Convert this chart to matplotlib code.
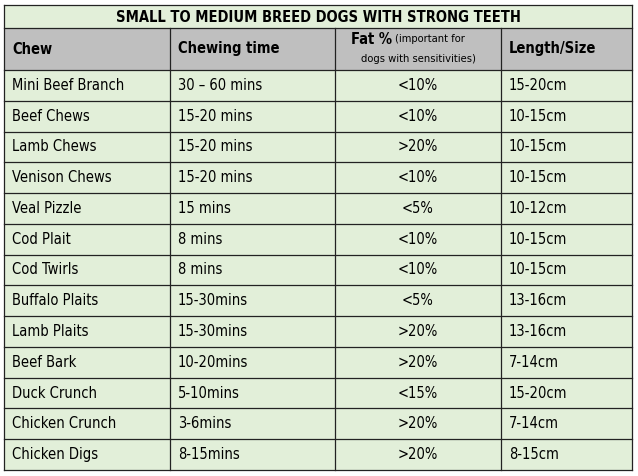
import matplotlib.pyplot as plt
from matplotlib.patches import Rectangle

title = 'SMALL TO MEDIUM BREED DOGS WITH STRONG TEETH'
chews = ['Mini Beef Branch', 'Beef Chews', 'Lamb Chews', 'Venison Chews', 'Veal Pizzle',
         'Cod Plait', 'Cod Twirls', 'Buffalo Plaits', 'Lamb Plaits', 'Beef Bark',
         'Duck Crunch', 'Chicken Crunch', 'Chicken Digs']
times = ['30 – 60 mins', '15-20 mins', '15-20 mins', '15-20 mins', '15 mins', '8 mins', '8 mins',
         '15-30mins', '15-30mins', '10-20mins', '5-10mins', '3-6mins', '8-15mins']
fats = ['<10%', '<10%', '>20%', '<10%', '<5%', '<10%', '<10%', '<5%', '>20%', '>20%',
        '<15%', '>20%', '>20%']
sizes = ['15-20cm', '10-15cm', '10-15cm', '10-15cm', '10-12cm', '10-15cm', '10-15cm',
         '13-16cm', '13-16cm', '7-14cm', '15-20cm', '7-14cm', '8-15cm']

col_x = [4, 170, 335, 501, 632]
top, title_bot, head_bot, bottom = 5, 28, 70, 470
row_h = (bottom - head_bot) / len(chews)

fig = plt.figure(figsize=(6.38, 4.76), dpi=100)
ax = fig.add_axes([0, 0, 1, 1])
ax.set_xlim(0, 638)
ax.set_ylim(476, 0)
ax.axis('off')

green = '#e2efd9'
ax.add_patch(Rectangle((col_x[0], top), col_x[-1] - col_x[0], bottom - top, color=green, lw=0))
ax.add_patch(Rectangle((col_x[0], title_bot), col_x[-1] - col_x[0], head_bot - title_bot, color='#bfbfbf', lw=0))

fam = 'DejaVu Sans'
st = 'condensed'
fs = 10.5
ax.text((col_x[0] + col_x[-1]) / 2, (top + title_bot) / 2 + 1, title, ha='center', va='center',
        fontsize=10.5, fontweight='bold', family=fam, fontstretch=st)

hy = (title_bot + head_bot) / 2
ax.text(col_x[0] + 8, hy, 'Chew', va='center', fontsize=fs, fontweight='bold', family=fam, fontstretch=st)
ax.text(col_x[1] + 8, hy, 'Chewing time', va='center', fontsize=fs, fontweight='bold', family=fam, fontstretch=st)
ax.text(col_x[3] + 8, hy, 'Length/Size', va='center', fontsize=fs, fontweight='bold', family=fam, fontstretch=st)
cx = (col_x[2] + col_x[3]) / 2
ax.text(cx - 26, hy - 10, 'Fat %', va='center', ha='right', fontsize=fs, fontweight='bold', family=fam, fontstretch=st)
ax.text(cx - 23, hy - 10, '(important for', va='center', ha='left', fontsize=8, family=fam, fontstretch=st)
ax.text(cx, hy + 10, 'dogs with sensitivities)', va='center', ha='center', fontsize=8, family=fam, fontstretch=st)

for i in range(len(chews)):
    y = head_bot + (i + 0.5) * row_h
    ax.text(col_x[0] + 8, y, chews[i], va='center', fontsize=fs, family=fam, fontstretch=st)
    ax.text(col_x[1] + 8, y, times[i], va='center', fontsize=fs, family=fam, fontstretch=st)
    ax.text(cx, y, fats[i], va='center', ha='center', fontsize=fs, family=fam, fontstretch=st)
    ax.text(col_x[3] + 8, y, sizes[i], va='center', fontsize=fs, family=fam, fontstretch=st)

lc = '#222222'
for y in [top, title_bot, head_bot] + [head_bot + k * row_h for k in range(1, len(chews) + 1)]:
    ax.plot([col_x[0], col_x[-1]], [y, y], color=lc, lw=0.9)
for x in [col_x[0], col_x[-1]]:
    ax.plot([x, x], [top, bottom], color=lc, lw=0.9)
for x in col_x[1:-1]:
    ax.plot([x, x], [title_bot, bottom], color=lc, lw=0.9)

fig.savefig('out.png', dpi=100)
